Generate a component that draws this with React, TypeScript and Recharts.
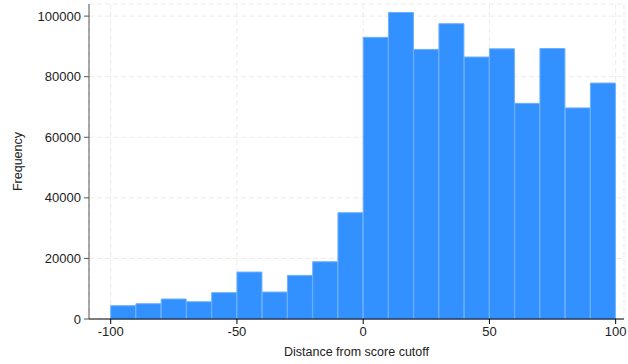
import { BarChart, Bar, XAxis, YAxis, CartesianGrid } from "recharts";

// histogram bins of width 10, labelled by their centre
const binCenters = [-95, -85, -75, -65, -55, -45, -35, -25, -15, -5, 5, 15, 25, 35, 45, 55, 65, 75, 85, 95];
const frequency = [
    4400, 5050, 6600, 5700, 8700, 15500, 8900, 14400, 18900, 35100,
    93000, 101200, 89000, 97500, 86500, 89200, 71200, 89300, 69700, 77900,
];
const xTicks = [-100, -50, 0, 50, 100];
const yTicks = [0, 20000, 40000, 60000, 80000, 100000];

const data = binCenters.map((x, i) => ({ x, freq: frequency[i] }));

const FONT = "'Liberation Sans', Arial, sans-serif";

export default function App() {
    return (
        <div style={{ position: "absolute", left: 0, top: 0, fontFamily: FONT }}>
            <BarChart
                width={628}
                height={364}
                data={data}
                margin={{ top: 4, right: 4, bottom: 0, left: 0 }}
                barCategoryGap={0}
                barGap={0}
            >
                <CartesianGrid stroke="#ebebeb" strokeDasharray="5 3" />
                <XAxis
                    dataKey="x"
                    type="number"
                    domain={[-108.6, 103.3]}
                    ticks={xTicks}
                    height={45}
                    tickSize={5}
                    tickMargin={3}
                    stroke="#000"
                    tick={{ fill: "#222", fontSize: 13, fontFamily: FONT }}
                    label={{
                        value: "Distance from score cutoff",
                        position: "insideBottom",
                        offset: 8,
                        fill: "#222",
                        fontSize: 12.5,
                        fontFamily: FONT,
                    }}
                />
                <YAxis
                    type="number"
                    domain={[0, 104000]}
                    ticks={yTicks}
                    width={89}
                    tickSize={5}
                    tickMargin={3}
                    stroke="#555"
                    tick={{ fill: "#222", fontSize: 13, fontFamily: FONT }}
                    label={{
                        value: "Frequency",
                        angle: -90,
                        position: "insideLeft",
                        offset: 18,
                        fill: "#222",
                        fontSize: 12.5,
                        fontFamily: FONT,
                        style: { textAnchor: "middle" },
                    }}
                />
                <Bar
                    dataKey="freq"
                    fill="#3390ff"
                    stroke="#6eb0ff"
                    strokeWidth={1}
                    isAnimationActive={false}
                />
            </BarChart>
        </div>
    );
}
